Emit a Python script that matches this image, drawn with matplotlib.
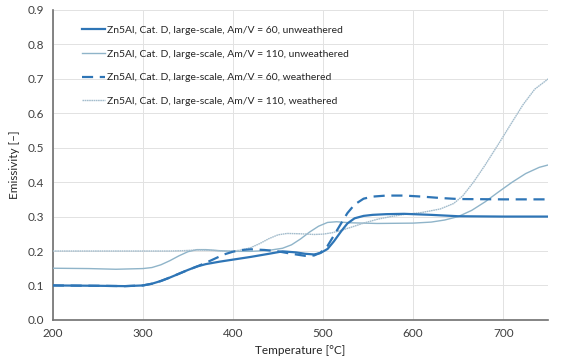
import matplotlib
matplotlib.use('Agg')
import matplotlib.pyplot as plt

plt.rcParams['font.family'] = ['Lato', 'DejaVu Sans']

# Zn5Al, Cat. D, large-scale, Am/V = 60, unweathered
t_60_unw = [200, 250, 280, 300, 310, 320, 330, 340, 350, 360, 370, 385, 400, 420, 440, 455,
            470, 480, 490, 497, 505, 512, 520, 527, 535, 545, 555, 570, 590, 620, 650, 700, 750]
e_60_unw = [0.100, 0.099, 0.098, 0.100, 0.105, 0.113, 0.123, 0.134, 0.145, 0.155, 0.162, 0.169,
            0.175, 0.183, 0.192, 0.199, 0.196, 0.192, 0.190, 0.194, 0.206, 0.228, 0.257, 0.280,
            0.295, 0.302, 0.305, 0.307, 0.308, 0.305, 0.301, 0.300, 0.300]

# Am/V = 110, unweathered
t_110_unw = [200, 240, 270, 300, 310, 320, 330, 340, 350, 360, 370, 385, 400, 420, 440, 455,
             465, 475, 485, 495, 505, 515, 530, 560, 600, 620, 635, 650, 665, 680, 695, 710,
             725, 740, 750]
e_110_unw = [0.150, 0.149, 0.147, 0.149, 0.152, 0.160, 0.172, 0.186, 0.198, 0.204, 0.204, 0.201,
             0.199, 0.199, 0.202, 0.208, 0.218, 0.235, 0.255, 0.272, 0.283, 0.285, 0.282, 0.280,
             0.281, 0.284, 0.290, 0.300, 0.318, 0.343, 0.372, 0.400, 0.425, 0.443, 0.450]

# Am/V = 60, weathered
t_60_w = [200, 250, 280, 300, 310, 320, 330, 340, 350, 360, 370, 380, 390, 400, 410, 420, 435,
          450, 465, 480, 490, 497, 505, 512, 520, 527, 535, 545, 555, 570, 590, 610, 630, 650,
          700, 750]
e_60_w = [0.100, 0.099, 0.098, 0.100, 0.105, 0.113, 0.123, 0.134, 0.145, 0.155, 0.166, 0.178,
          0.190, 0.198, 0.203, 0.205, 0.203, 0.199, 0.192, 0.186, 0.187, 0.195, 0.215, 0.245,
          0.280, 0.310, 0.335, 0.352, 0.358, 0.361, 0.361, 0.358, 0.354, 0.351, 0.350, 0.350]

# Am/V = 110, weathered
t_110_w = [200, 250, 300, 330, 345, 360, 375, 390, 400, 410, 420, 430, 440, 450, 460, 475, 490,
           500, 510, 520, 530, 545, 560, 575, 590, 610, 630, 645, 655, 667, 680, 697, 710, 722,
           735, 750]
e_110_w = [0.200, 0.200, 0.200, 0.200, 0.201, 0.203, 0.202, 0.200, 0.200, 0.203, 0.210, 0.222,
           0.236, 0.247, 0.251, 0.250, 0.248, 0.249, 0.253, 0.260, 0.268, 0.281, 0.292, 0.300,
           0.306, 0.312, 0.322, 0.338, 0.360, 0.400, 0.450, 0.520, 0.575, 0.625, 0.670, 0.700]

labels = ['Zn5Al, Cat. D, large-scale, Am/V = 60, unweathered',
          'Zn5Al, Cat. D, large-scale, Am/V = 110, unweathered',
          'Zn5Al, Cat. D, large-scale, Am/V = 60, weathered',
          'Zn5Al, Cat. D, large-scale, Am/V = 110, weathered']

x_ticks = [200, 300, 400, 500, 600, 700]
y_ticks = [0.0, 0.1, 0.2, 0.3, 0.4, 0.5, 0.6, 0.7, 0.8, 0.9]

fig = plt.figure(figsize=(5.87, 3.57), dpi=100)
ax = fig.add_axes([0.090, 0.104, 0.844, 0.868])

dark = '#2e75b6'
ax.plot(t_60_unw, e_60_unw, color=dark, lw=1.6, label=labels[0], zorder=4)
ax.plot(t_110_unw, e_110_unw, color='#8fb4c9', lw=1.0, label=labels[1], zorder=3)
ax.plot(t_60_w, e_60_w, color=dark, lw=1.6, ls=(0, (5, 3)), label=labels[2], zorder=4)
ax.plot(t_110_w, e_110_w, color='#a3bccc', lw=1.0, ls=(0, (1.2, 0.4)), label=labels[3], zorder=3)

ax.set_xlim(200, 750)
ax.set_ylim(0, 0.9)
ax.set_xticks(x_ticks)
ax.set_yticks(y_ticks)
ax.set_yticklabels([f'{v:.1f}' for v in y_ticks])
ax.grid(True, color='#e2e2e2', lw=0.7)
ax.set_axisbelow(True)
ax.tick_params(length=0, labelsize=8.5, colors='#404040', pad=6)

for side in ['top', 'right']:
    ax.spines[side].set_visible(False)
for side in ['left', 'bottom']:
    ax.spines[side].set_color('#707070')
    ax.spines[side].set_linewidth(1.2)

ax.set_xlabel('Temperature [°C]', fontsize=8.5, color='#262626', labelpad=4)
ax.set_ylabel('Emissivity [–]', fontsize=8.5, color='#262626', labelpad=6)

ax.legend(loc='upper left', bbox_to_anchor=(0.04, 0.98), frameon=False, fontsize=7.5,
          handlelength=2.2, handletextpad=0.2, labelspacing=1.38, labelcolor='#262626')

fig.savefig('out.png', dpi=100, facecolor='white')
